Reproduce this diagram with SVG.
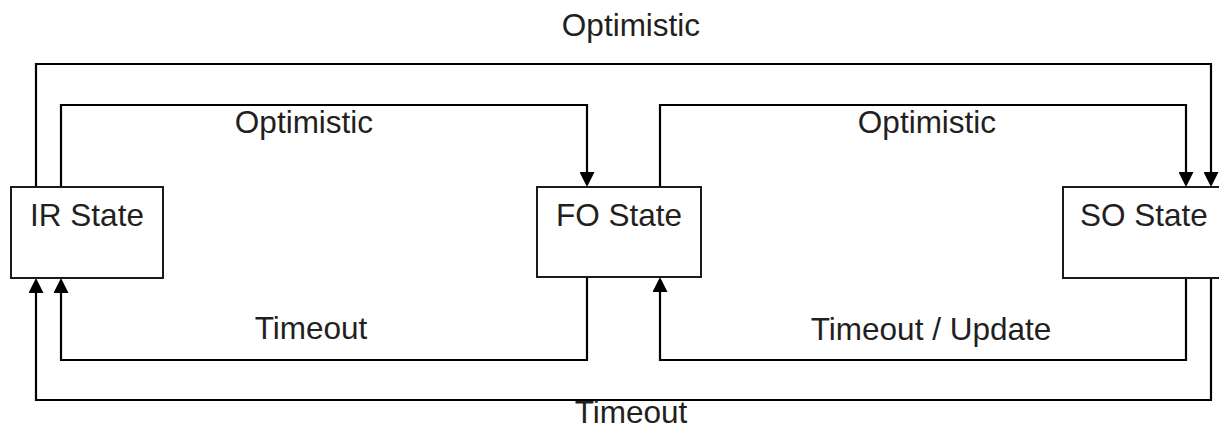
<svg xmlns="http://www.w3.org/2000/svg" width="1219" height="430" viewBox="0 0 1219 430">
<style>
.box{fill:#fff;stroke:#1a1a1a;stroke-width:2}
.lbl{font-family:"Liberation Sans",Arial,sans-serif;font-size:31.5px;fill:#231f20;text-anchor:middle}
.conn{fill:none;stroke:#000;stroke-width:2.2}
</style>
<defs>
<marker id="ah" markerUnits="userSpaceOnUse" markerWidth="16" markerHeight="15" refX="0" refY="7.5" orient="auto">
<path d="M0,0 L15,7.5 L0,15 z" fill="#000"/>
</marker>
</defs>
<rect width="1219" height="430" fill="#fff"/>
<g id="connectors">
<path class="conn" d="M61,187 V105 H587 V172" marker-end="url(#ah)"/>
<path class="conn" d="M36,187 V64 H1211 V172" marker-end="url(#ah)"/>
<path class="conn" d="M660,187 V105 H1186 V172" marker-end="url(#ah)"/>
<path class="conn" d="M587,278 V360 H61 V293" marker-end="url(#ah)"/>
<path class="conn" d="M1186,278 V360 H660 V292" marker-end="url(#ah)"/>
<path class="conn" d="M1211,278 V400 H36 V293" marker-end="url(#ah)"/>
<text class="lbl" x="631" y="36">Optimistic</text>
<text class="lbl" x="304" y="133">Optimistic</text>
<text class="lbl" x="927" y="133">Optimistic</text>
<text class="lbl" x="311" y="339">Timeout</text>
<text class="lbl" x="931" y="340">Timeout / Update</text>
<text class="lbl" x="631" y="423">Timeout</text>
</g>
<g id="ir-state">
<rect class="box" x="11" y="187" width="152" height="91"/>
<text class="lbl" x="87" y="226">IR State</text>
</g>
<g id="fo-state">
<rect class="box" x="537" y="187" width="164" height="90"/>
<text class="lbl" x="619" y="226">FO State</text>
</g>
<g id="so-state">
<rect class="box" x="1063" y="187" width="170" height="91"/>
<text class="lbl" x="1144" y="226">SO State</text>
</g>
</svg>
